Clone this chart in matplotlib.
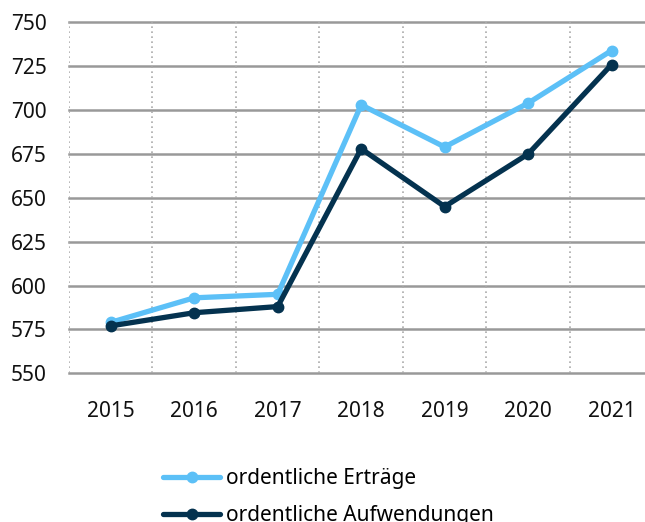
import matplotlib.pyplot as plt

years = ['2015', '2016', '2017', '2018', '2019', '2020', '2021']
ertraege = [579, 593, 595, 703, 679, 704, 734]
aufwendungen = [577, 584.5, 588, 678, 645, 675, 726]
yticks = [550, 575, 600, 625, 650, 675, 700, 725, 750]

plt.rcParams['font.family'] = ['Noto Sans', 'DejaVu Sans']

fig = plt.figure(figsize=(6.45, 5.22), dpi=100)
ax = fig.add_axes([0.107, 0.285, 0.893, 0.672])

x = list(range(len(years)))
l1, = ax.plot(x, ertraege, color='#5cc0f7', lw=3.8, marker='o', ms=7.5,
              solid_joinstyle='round', solid_capstyle='round',
              label='ordentliche Erträge', zorder=3)
l2, = ax.plot(x, aufwendungen, color='#04324f', lw=3.8, marker='o', ms=7.5,
              solid_joinstyle='round', solid_capstyle='round',
              label='ordentliche Aufwendungen', zorder=4)

ax.set_ylim(550, 750)
ax.set_xlim(-0.5, 6.4)
ax.set_yticks(yticks)
ax.set_xticks(x)
ax.set_xticklabels(years)

# grid: solid horizontals, dotted verticals between categories
for y in yticks:
    ax.axhline(y, color='#999999', lw=1.8, zorder=1, clip_on=False)
for b in [i - 0.5 for i in range(len(years))]:
    ax.axvline(b, color='#aaaaaa', lw=1.2, ls=(0, (1, 2)), zorder=1)

for s in ax.spines.values():
    s.set_visible(False)
ax.tick_params(length=0, labelsize=15, colors='#111111')
ax.tick_params(axis='y', pad=16)
ax.tick_params(axis='x', pad=20)

fig.legend(handles=[l1, l2], loc='upper left', bbox_to_anchor=(0.253, 0.103),
           frameon=False, fontsize=15, handlelength=2.75, handletextpad=0.25,
           labelspacing=0.75, borderaxespad=0, borderpad=0)

fig.savefig('out.png', dpi=100)
